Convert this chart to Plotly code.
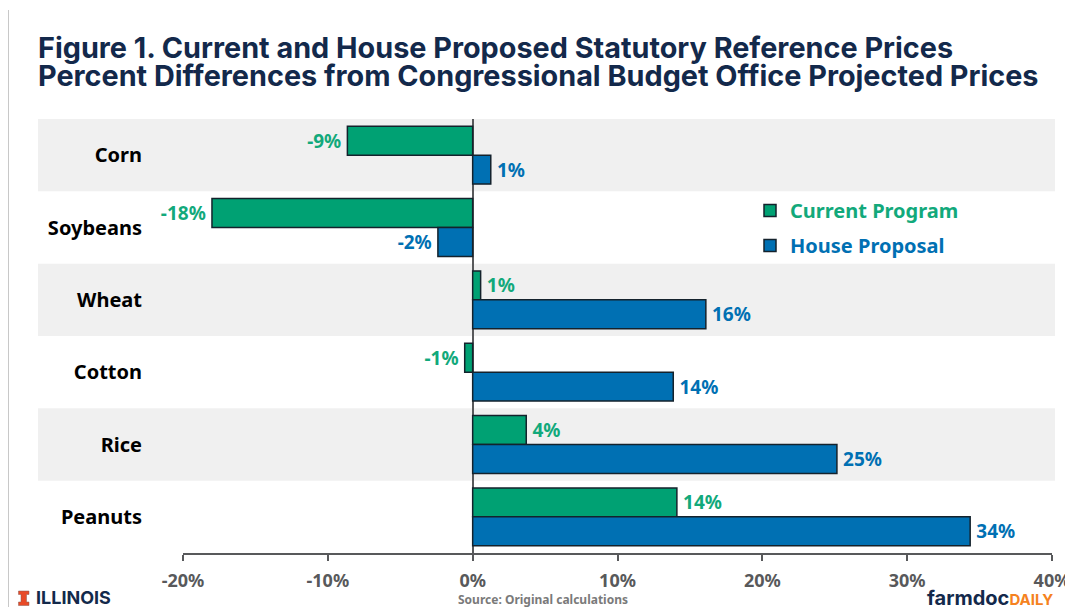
import plotly.graph_objects as go

# Commodities, top to bottom
commodities = ["Corn", "Soybeans", "Wheat", "Cotton", "Rice", "Peanuts"]
# Percent differences from projected prices, as fractions
current_program = [-0.0865, -0.18, 0.0055, -0.0055, 0.037, 0.141]
house_proposal = [0.0125, -0.024, 0.161, 0.1385, 0.2515, 0.3435]
x_ticks = [-0.2, -0.1, 0, 0.1, 0.2, 0.3, 0.4]
x_tick_labels = ["-20%", "-10%", "0%", "10%", "20%", "30%", "40%"]
shaded_rows = ["Corn", "Wheat", "Rice"]

GREEN = "#00a173"
GREEN_TEXT = "#12a97b"
BLUE = "#0070b3"
NAVY = "#13294b"
ORANGE = "#e84a27"
GREY = "#58595b"
OUTLINE = "#14222c"
LABEL_FONT = "Noto Sans"

W, H = 1065, 607
L, R, T, B = 183, 13, 119, 54


def px(x):
    return (x - L) / (W - L - R)


def py(y):
    return 1 - (y - T) / (H - T - B)


def bar_trace(name, values, fill, text_colour):
    # A thin space keeps each value label clear of its bar end
    templates = ["%{x:.0%}\u2009" if v < 0 else "\u2009%{x:.0%}" for v in values]
    return go.Bar(
        name=f'<span style="color:{text_colour}">{name}</span>',
        y=commodities,
        x=values,
        orientation="h",
        legendgroup=name,
        marker=dict(color=fill, line=dict(color=OUTLINE, width=1.5)),
        texttemplate=templates,
        textposition="outside",
        textfont=dict(family=LABEL_FONT, size=19, color=text_colour, weight="bold"),
        cliponaxis=False,
    )


fig = go.Figure([
    bar_trace("Current Program", current_program, GREEN, GREEN_TEXT),
    bar_trace("House Proposal", house_proposal, BLUE, BLUE),
])

# Alternating row bands behind the bars
shapes = [
    dict(type="rect", xref="paper", yref="y", layer="below",
         x0=px(38), x1=px(1055),
         y0=commodities.index(c) - 0.5, y1=commodities.index(c) + 0.5,
         fillcolor="#f0f0f0", line_width=0)
    for c in shaded_rows
]
# Thin rule down the left page edge
shapes.append(dict(type="line", xref="paper", yref="paper",
                   x0=px(8.5), x1=px(8.5), y0=py(10), y1=py(607),
                   line=dict(color="#c8c8c8", width=1)))

# Block I emblem beside the university name
block_i = [(18.5, 591), (29, 591), (29, 594.5), (26.5, 594.5), (26.5, 602), (29, 602),
           (29, 605.5), (18.5, 605.5), (18.5, 602), (21, 602), (21, 594.5), (18.5, 594.5)]
emblem_path = "M" + " L".join(f"{px(a):.5f},{py(b):.5f}" for a, b in block_i) + " Z"
shapes.append(dict(type="path", xref="paper", yref="paper", path=emblem_path,
                   fillcolor=ORANGE, line=dict(color="#8a5a50", width=0.5)))


def note(x, y, text, size, colour, family=LABEL_FONT, xanchor="left"):
    return dict(xref="paper", yref="paper", x=px(x), y=py(y), text=text,
                showarrow=False, xanchor=xanchor, yanchor="middle",
                borderpad=0, borderwidth=0,
                font=dict(family=family, size=size, color=colour, weight="bold"))


annotations = [
    note(38, 47, "Figure 1. Current and House Proposed Statutory Reference Prices", 28.8, NAVY, "Inter"),
    note(38, 75.5, "Percent Differences from Congressional Budget Office Projected Prices", 28.8, NAVY, "Inter"),
    note(543, 599, "Source: Original calculations", 12, "#7a7a7a", xanchor="center"),
    note(36, 597, "ILLINOIS", 18, NAVY, "Inter"),
    note(927, 597.5, 'farmdoc<span style="color:#f58220;font-size:15px">DAILY</span>', 20, NAVY, "Inter"),
]

fig.update_layout(
    width=W,
    height=H,
    margin=dict(l=L, r=R, t=T, b=B, autoexpand=False),
    paper_bgcolor="white",
    plot_bgcolor="rgba(0,0,0,0)",
    barmode="group",
    bargap=0.2,
    bargroupgap=0,
    shapes=shapes,
    annotations=annotations,
    showlegend=True,
    legend=dict(
        x=px(750), y=py(191), xanchor="left", yanchor="top",
        traceorder="grouped", tracegroupgap=6, itemclick=False,
        font=dict(family=LABEL_FONT, size=20, weight="bold"),
        bgcolor="rgba(0,0,0,0)",
    ),
    xaxis=dict(
        range=[-0.2, 0.4],
        tickvals=x_ticks,
        ticktext=x_tick_labels,
        ticks="outside",
        ticklen=6,
        tickwidth=1.5,
        tickcolor=GREY,
        ticklabelstandoff=5,
        ticklabeloverflow="allow",
        showline=True,
        linecolor=GREY,
        linewidth=1.5,
        showgrid=False,
        zeroline=True,
        zerolinecolor=GREY,
        zerolinewidth=1.5,
        tickfont=dict(family=LABEL_FONT, size=18, color=GREY, weight="bold"),
    ),
    yaxis=dict(
        categoryorder="array",
        categoryarray=commodities,
        range=[5.5, -0.5],
        showgrid=False,
        showline=False,
        zeroline=False,
        ticks="",
        ticklabelstandoff=40,
        tickfont=dict(family=LABEL_FONT, size=20, color="black", weight="bold"),
    ),
)

fig.write_html("out.html", config=dict(displayModeBar=False))
